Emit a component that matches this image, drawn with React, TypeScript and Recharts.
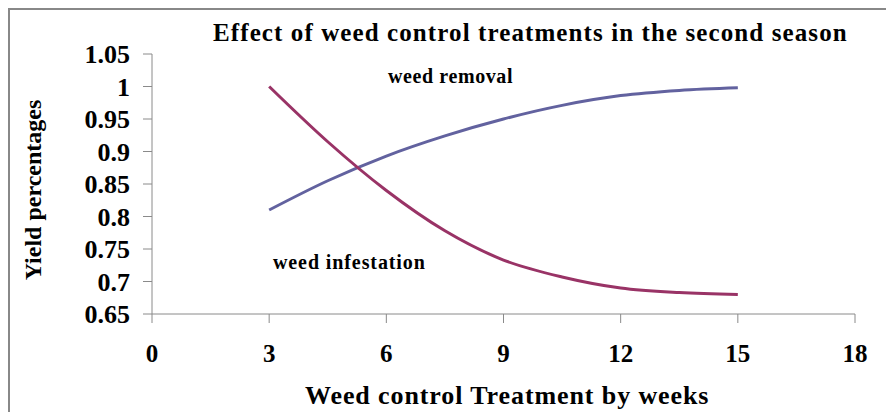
import { LineChart, Line, XAxis, YAxis } from "recharts";

const weeks = [3, 4.5, 6, 7.5, 9, 10.5, 12, 13.5, 15];
const weedRemoval = [0.81, 0.855, 0.893, 0.924, 0.95, 0.971, 0.986, 0.994, 0.998];
const weedInfestation = [1.0, 0.915, 0.84, 0.778, 0.733, 0.707, 0.69, 0.683, 0.68];
const xTicks = [0, 3, 6, 9, 12, 15, 18];
const yTicks = [0.65, 0.7, 0.75, 0.8, 0.85, 0.9, 0.95, 1, 1.05];

const data = weeks.map((w, i) => ({
  week: w,
  removal: weedRemoval[i],
  infestation: weedInfestation[i],
}));

const font = "'Liberation Serif', 'Times New Roman', serif";
const axisColor = "#8a8a8a";

const yTickStyle = { fontFamily: font, fontWeight: 700, fontSize: 26, fill: "#000" };
const xTickStyle = { fontFamily: font, fontWeight: 700, fontSize: 25, fill: "#000" };

const label = (text: string, left: number, top: number, size: number, extra: any = {}) => (
  <div
    style={{
      position: "absolute",
      left,
      top,
      fontFamily: font,
      fontWeight: 700,
      fontSize: size,
      whiteSpace: "nowrap",
      lineHeight: 1,
      color: "#000",
      ...extra,
    }}
  >
    {text}
  </div>
);

export default function App() {
  return (
    <div style={{ position: "absolute", left: 0, top: 0, width: 886, height: 412, background: "#fff", overflow: "hidden" }}>
      <div style={{ position: "absolute", left: 8, top: 8, width: 900, height: 420, borderTop: "2px solid #888", borderLeft: "2px solid #888" }} />
      <LineChart width={886} height={412} data={data} margin={{ top: 54, right: 31, bottom: 0, left: 0 }}>
        <XAxis
          dataKey="week"
          type="number"
          domain={[0, 18]}
          ticks={xTicks}
          height={98}
          tickSize={9}
          tickMargin={21}
          stroke={axisColor}
          tick={xTickStyle}
          interval={0}
        />
        <YAxis
          type="number"
          domain={[0.65, 1.05]}
          ticks={yTicks}
          width={152}
          tickSize={9}
          tickMargin={13}
          stroke={axisColor}
          tick={yTickStyle}
          interval={0}
        />
        <Line type="monotone" dataKey="removal" stroke="#62629f" strokeWidth={3} dot={false} isAnimationActive={false} />
        <Line type="monotone" dataKey="infestation" stroke="#993366" strokeWidth={3} dot={false} isAnimationActive={false} />
      </LineChart>
      {label("Effect of weed control treatments in the second season", 213, 20, 25, { letterSpacing: 1.1 })}
      {label("weed removal", 388, 66, 20, { letterSpacing: 0.6 })}
      {label("weed infestation", 273, 252, 20, { letterSpacing: 0.9 })}
      {label("Weed control Treatment by weeks", 305, 383, 26, { letterSpacing: 0.9 })}
      <div
        style={{
          position: "absolute",
          left: 33,
          top: 190,
          transform: "translate(-50%, -50%) rotate(-90deg)",
          fontFamily: font,
          fontWeight: 700,
          fontSize: 24,
          whiteSpace: "nowrap",
          lineHeight: 1,
        }}
      >
        Yield percentages
      </div>
    </div>
  );
}
